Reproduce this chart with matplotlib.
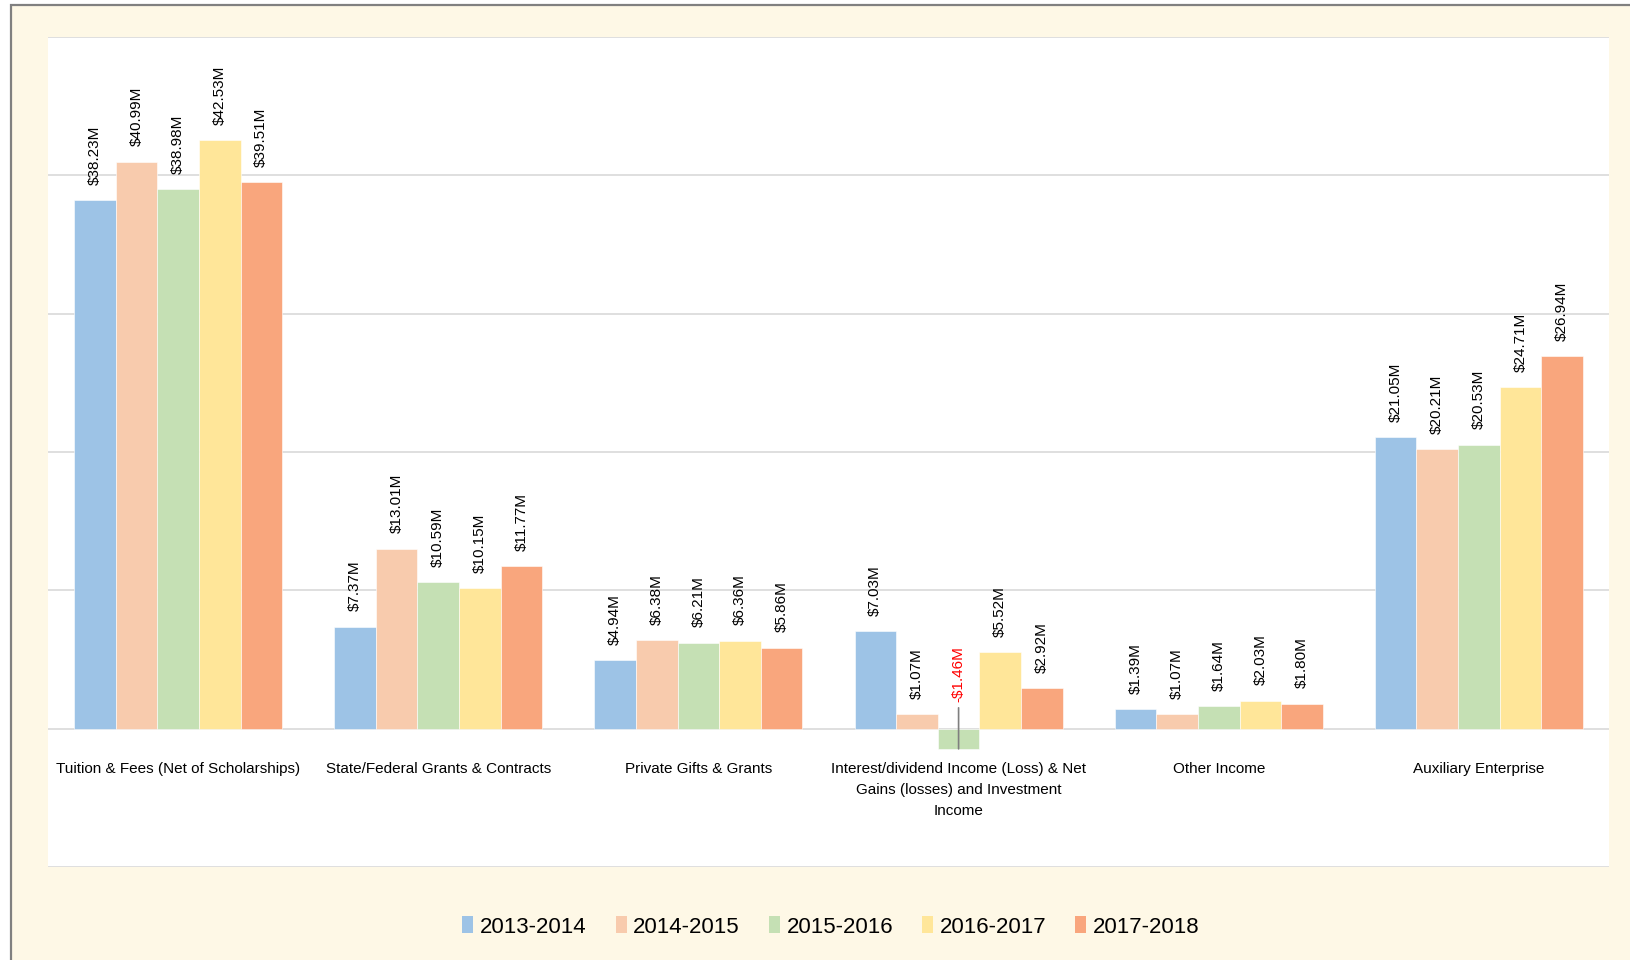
import matplotlib.pyplot as plt
import matplotlib.transforms as mtransforms
from matplotlib.patches import Rectangle, Patch
import numpy as np

plt.rcParams['font.family'] = ['Liberation Sans', 'DejaVu Sans']

categories = [
    'Tuition & Fees (Net of Scholarships)',
    'State/Federal Grants & Contracts',
    'Private Gifts & Grants',
    'Interest/dividend Income (Loss) & Net\nGains (losses) and Investment\nIncome',
    'Other Income',
    'Auxiliary Enterprise',
]
years = ['2013-2014', '2014-2015', '2015-2016', '2016-2017', '2017-2018']

# revenue in $ millions, one list per fiscal year
fy2014 = [38.23, 7.37, 4.94, 7.03, 1.39, 21.05]
fy2015 = [40.99, 13.01, 6.38, 1.07, 1.07, 20.21]
fy2016 = [38.98, 10.59, 6.21, -1.46, 1.64, 20.53]
fy2017 = [42.53, 10.15, 6.36, 5.52, 2.03, 24.71]
fy2018 = [39.51, 11.77, 5.86, 2.92, 1.80, 26.94]
series = [fy2014, fy2015, fy2016, fy2017, fy2018]

colors = ['#9DC3E6', '#F8CBAD', '#C5E0B4', '#FFE699', '#F9A67D']
cream = '#FEF8E6'

fig = plt.figure(figsize=(16.3, 9.6), dpi=100, facecolor='white')
# cream panel with grey frame on the left and top
fig.add_artist(Rectangle((11 / 1630, -0.05), 1.1, 1 - 5 / 960 + 0.05,
                         transform=fig.transFigure, facecolor=cream,
                         edgecolor='#808080', linewidth=1.6, zorder=0))

ax = fig.add_axes([48 / 1630, 93 / 960, 1561 / 1630, 830 / 960])
ax.set_facecolor('white')
ax.set_ylim(-10, 50)
ax.set_xlim(-0.5, len(categories) - 0.5)
for s in ax.spines.values():
    s.set_visible(False)
ax.set_xticks([])
ax.set_yticks(np.arange(-10, 51, 10))
ax.tick_params(axis='y', length=0, labelleft=False)
ax.grid(axis='y', color='#D9D9D9', linewidth=1.2)
ax.set_axisbelow(True)

x = np.arange(len(categories))
bw = 0.16
label_off = mtransforms.offset_copy(ax.transData, fig=fig, y=11, units='points')
neg_off = mtransforms.offset_copy(ax.transData, fig=fig, y=19, units='points')
leader_end = mtransforms.offset_copy(ax.transData, fig=fig, y=15, units='points')

for i, (vals, col) in enumerate(zip(series, colors)):
    xs = x + (i - 2) * bw
    ax.bar(xs, vals, width=bw, color=col, edgecolor='white', linewidth=0.4,
           label=years[i], zorder=2)
    for xi, v in zip(xs, vals):
        if v >= 0:
            ax.text(xi, v, f'${v:.2f}M', rotation=90, ha='center', va='bottom',
                    fontsize=11, transform=label_off)
        else:
            ax.text(xi, 0, f'-${abs(v):.2f}M', rotation=90, ha='center',
                    va='bottom', fontsize=11, color='red', transform=neg_off)
            ax.annotate('', xy=(xi, v), xycoords='data', xytext=(xi, 0),
                        textcoords=leader_end,
                        arrowprops=dict(arrowstyle='-', color='#7F7F7F',
                                        lw=1.2, shrinkA=0, shrinkB=0),
                        zorder=3)

cat_off = mtransforms.offset_copy(ax.transData, fig=fig, y=-24, units='points')
for xi, c in zip(x, categories):
    ax.text(xi, 0, c, ha='center', va='top', fontsize=11,
            linespacing=1.65, transform=cat_off)

handles = [Patch(facecolor=c, edgecolor='none') for c in colors]
fig.legend(handles, years, loc='center', bbox_to_anchor=(831 / 1630, 33 / 960),
           ncol=5, frameon=False, fontsize=16, handlelength=0.5,
           handleheight=0.8, handletextpad=0.3, columnspacing=1.3)

fig.savefig('out.png', dpi=100, facecolor=fig.get_facecolor())
